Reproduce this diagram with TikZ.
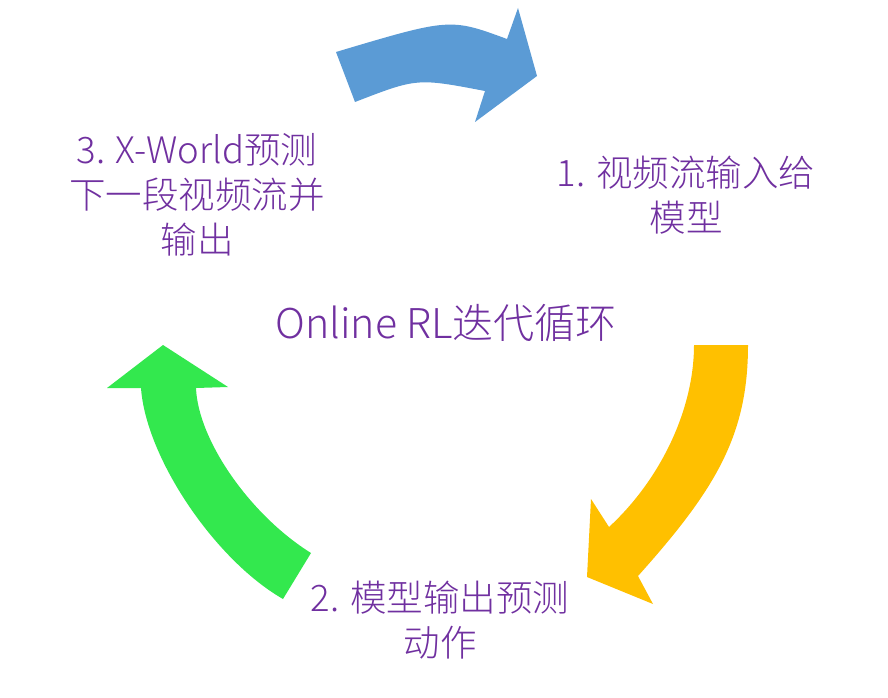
\documentclass[tikz,border=0pt]{standalone}
\usepackage{fontspec}
\setmainfont{Noto Sans CJK SC}[UprightFont=* Light]
\definecolor{loopBlue}{HTML}{5B9BD5}
\definecolor{loopGold}{HTML}{FFC000}
\definecolor{loopGreen}{HTML}{33E84E}
\definecolor{loopPurple}{HTML}{7030A0}
\tikzset{
  loop arrow/.style={draw=none},
  loop label/.style={align=center, text=loopPurple, inner sep=0pt, font=\fontsize{36.5}{45}\selectfont},
  loop title/.style={text=loopPurple, inner sep=0pt, font=\fontsize{41}{48}\selectfont},
}

\begin{document}
\begin{tikzpicture}[x=1pt,y=-1pt]
  \useasboundingbox[fill=white] (0,0) rectangle (888,698);
  % top arrow
  \fill[loopBlue, loop arrow] (336,52) .. controls (450,18) .. (507,39)
    -- (518,8) -- (537,76) -- (475,122) -- (485,91)
    .. controls (417,78) .. (355,102) -- cycle;
  % right arrow
  \fill[loopGold, loop arrow] (694,345) -- (748,345)
    .. controls (748,435) and (716,489) .. (638,576)
    -- (653,604) -- (587,577) -- (591,499) -- (609,527)
    .. controls (660,480) and (694,410) .. (694,345) -- cycle;
  % left arrow
  \fill[loopGreen, loop arrow] (283,599)
    .. controls (215,560) and (146,458) .. (141,388)
    -- (107,388) -- (163,345) -- (228,387) -- (196,388)
    .. controls (198,440) and (250,515) .. (311,553) -- cycle;
  % labels
  \node[loop label] (feed) at (686,195) {1. 视频流输入给\\模型};
  \node[loop label] (act) at (440,620) {2. 模型输出预测\\动作};
  \node[loop label] (world) at (197,195) {3. X-World预测\\下一段视频流并\\输出};
  \node[loop title] (title) at (446,323) {Online RL迭代循环};
\end{tikzpicture}
\end{document}
